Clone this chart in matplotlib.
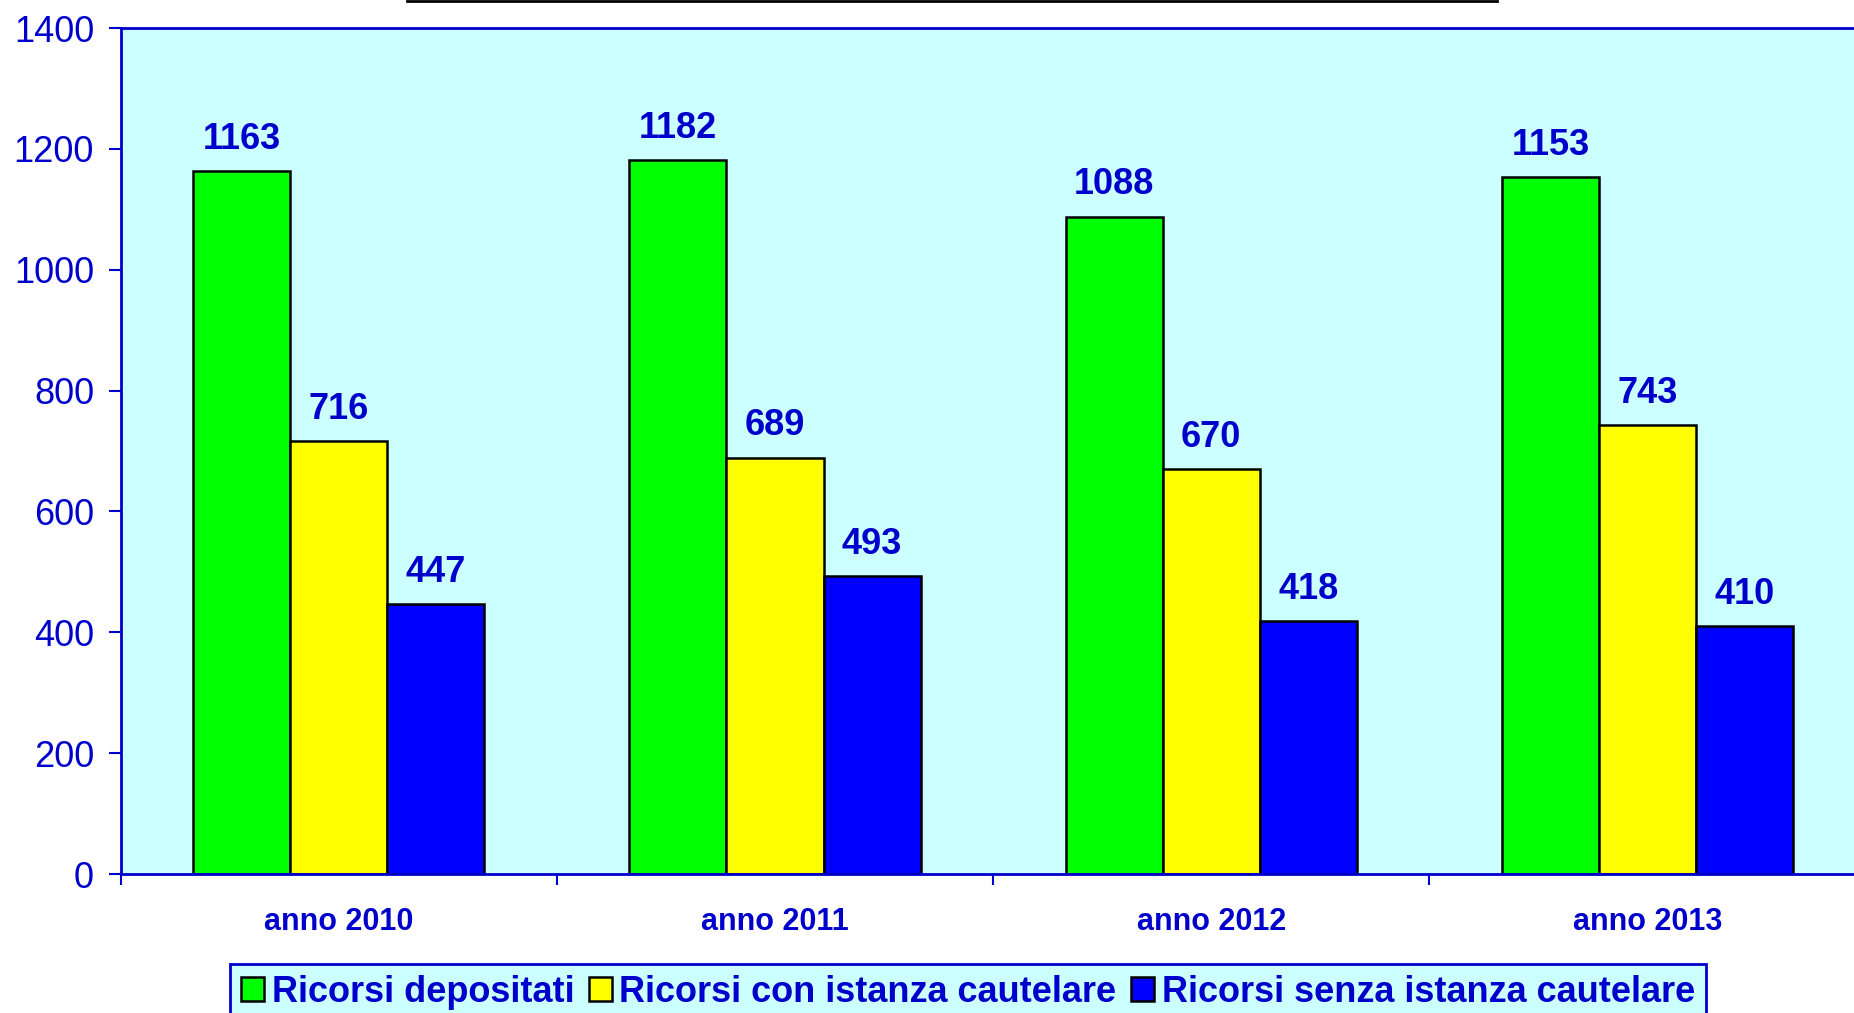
import numpy as np
import matplotlib
matplotlib.use("Agg")
import matplotlib.pyplot as plt
from matplotlib.lines import Line2D

# dati del grafico
anni = ['anno 2010', 'anno 2011', 'anno 2012', 'anno 2013']
serie = ['Ricorsi depositati', 'Ricorsi con istanza cautelare', 'Ricorsi senza istanza cautelare']
depositati = [1163, 1182, 1088, 1153]
con_istanza = [716, 689, 670, 743]
senza_istanza = [447, 493, 418, 410]
colori = ['#00FF00', '#FFFF00', '#0000FF']

plt.rcParams['font.family'] = ['Liberation Sans', 'DejaVu Sans']
blu = '#0000CC'

fig = plt.figure(figsize=(18.54, 10.13), dpi=100)
ax = fig.add_axes([0.065, 1 - 874 / 1013, 0.935, (874 - 28) / 1013])
ax.set_facecolor('#CCFFFF')

x = np.arange(len(anni))
w = 0.2225
valori = [depositati, con_istanza, senza_istanza]
for i, (vals, col, nome) in enumerate(zip(valori, colori, serie)):
    pos = x + (i - 1) * w
    ax.bar(pos, vals, width=w, color=col, edgecolor='black', linewidth=1.8, label=nome, zorder=2)
    for p, v in zip(pos, vals):
        ax.annotate(str(v), (p, v), xytext=(0, 16), textcoords='offset points',
                    ha='center', va='baseline', fontsize=26, fontweight='bold', color=blu)

ax.set_yticks(range(0, 1401, 200))
ax.tick_params(axis='y', colors=blu, labelcolor=blu, labelsize=26, length=9, width=1.5, pad=10)

# tick ai confini dei gruppi, etichette al centro
ax.set_xticks(np.arange(-0.5, 4, 1.0))
ax.set_xticklabels([])
ax.tick_params(axis='x', which='major', colors=blu, length=8, width=1.5)
ax.set_xticks(x, minor=True)
ax.set_xticklabels(anni, minor=True, fontsize=22, fontweight='bold', color=blu)
ax.tick_params(axis='x', which='minor', length=0, pad=24)

ax.set_ylim(0, 1400)
ax.set_xlim(-0.5, 3.473)

for s in ['left', 'bottom', 'top']:
    ax.spines[s].set_color(blu)
    ax.spines[s].set_linewidth(2)
ax.spines['right'].set_visible(False)

leg = ax.legend(loc='upper left', bbox_to_anchor=(230 / 1854, 1 - 964 / 1013),
                bbox_transform=fig.transFigure, ncol=3, frameon=True, fancybox=False,
                prop={'weight': 'bold', 'size': 26},
                handlelength=0.65, handleheight=0.65, handletextpad=0.2,
                columnspacing=0.4, borderpad=0.3, borderaxespad=0)
for t in leg.get_texts():
    t.set_color(blu)
leg.get_frame().set_facecolor('#CCFFFF')
leg.get_frame().set_edgecolor(blu)
leg.get_frame().set_linewidth(2)
leg.get_frame().set_alpha(1)

# bordo del titolo tagliato in alto
fig.add_artist(Line2D([407 / 1854, 1497 / 1854], [1 - 1.5 / 1013] * 2,
                      transform=fig.transFigure, color='black', linewidth=2))

fig.savefig('out.png', dpi=100)
